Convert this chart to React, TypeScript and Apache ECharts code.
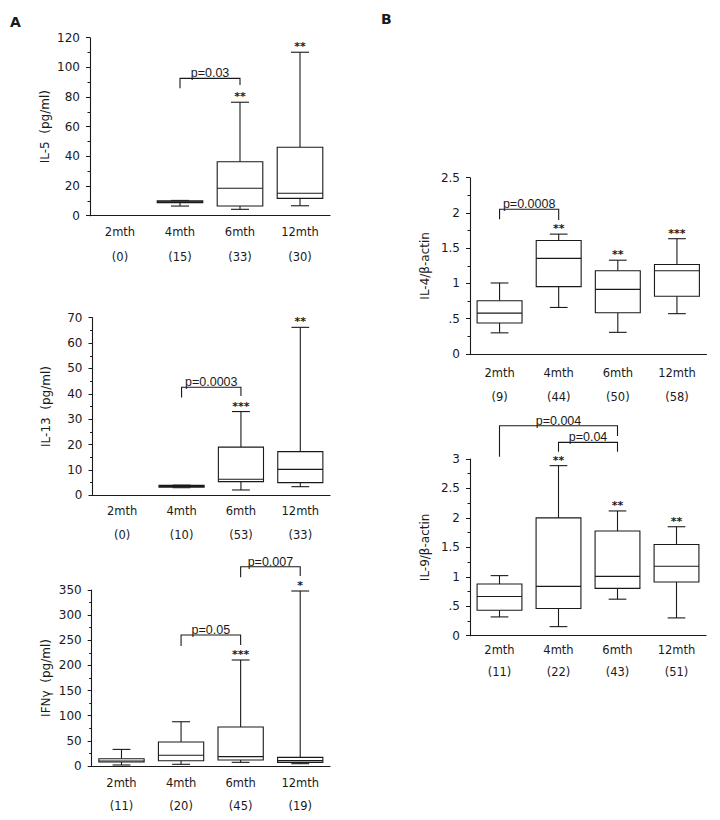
import React, { useEffect, useRef } from "react";
import * as echarts from "echarts";

// ---------- data ----------
const categories = ["2mth", "4mth", "6mth", "12mth"];

// box data: [categoryIndex, min, q1, median, q3, max]
const il5Boxes = [
  [1, 6.5, 8.8, 9.3, 10.0, 10.3],
  [2, 4.3, 6.5, 18.5, 36.4, 76.5],
  [3, 6.7, 11.7, 15.1, 46.1, 110.2],
];
const il5Stars = ["", "**", "**"];
const il5Counts = ["(0)", "(15)", "(33)", "(30)"];
const il5Brackets = [[1, 2, 92.6, 85.9, 88.1]];
const il5BracketLabels = ["p=0.03"];

const il13Boxes = [
  [1, 3.0, 3.2, 3.5, 3.9, 4.0],
  [2, 2.1, 5.4, 6.3, 19.0, 33.0],
  [3, 3.4, 5.0, 10.2, 17.2, 66.2],
];
const il13Stars = ["", "***", "**"];
const il13Counts = ["(0)", "(10)", "(53)", "(33)"];
const il13Brackets = [[1, 2, 42.6, 38.5, 39.1]];
const il13BracketLabels = ["p=0.0003"];

const ifnBoxes = [
  [0, 2, 8, 10, 14.5, 33],
  [1, 3.4, 10.5, 21.3, 47.7, 88],
  [2, 7.3, 11.9, 18.6, 77.6, 210.8],
  [3, 4.6, 7.3, 10.6, 17.2, 348],
];
const ifnStars = ["", "", "***", "*"];
const ifnCounts = ["(11)", "(20)", "(45)", "(19)"];
const ifnBrackets = [
  [1, 2, 260.5, 238.6, 240.6],
  [2, 3, 396.3, 375.2, 377.8],
];
const ifnBracketLabels = ["p=0.05", "p=0.007"];

const il4Boxes = [
  [0, 0.3, 0.44, 0.58, 0.756, 1.007],
  [1, 0.66, 0.955, 1.356, 1.61, 1.7],
  [2, 0.307, 0.586, 0.917, 1.18, 1.33],
  [3, 0.572, 0.818, 1.18, 1.27, 1.635],
];
const il4Stars = ["", "**", "**", "***"];
const il4Counts = ["(9)", "(44)", "(50)", "(58)"];
const il4Brackets = [[0, 1, 2.052, 1.91, 1.9]];
const il4BracketLabels = ["p=0.0008"];

const il9Boxes = [
  [0, 0.319, 0.433, 0.666, 0.877, 1.02],
  [1, 0.154, 0.461, 0.837, 2.0, 2.887],
  [2, 0.62, 0.803, 1.008, 1.777, 2.118],
  [3, 0.302, 0.911, 1.179, 1.549, 1.85],
];
const il9Stars = ["", "**", "**", "**"];
const il9Counts = ["(11)", "(22)", "(43)", "(51)"];
const il9Brackets = [
  [0, 2, 3.565, 3.04, 3.39],
  [1, 2, 3.283, 3.124, 3.124],
];
const il9BracketLabels = ["p=0.004", "p=0.04"];

// ---------- styling helpers ----------
const FONT = "DejaVu Sans";
const INK = "#1a1a1a";

function boxRenderer(stars: string[]) {
  return (params: any, api: any) => {
    const c = api.value(0);
    const pts = [1, 2, 3, 4, 5].map((i) => api.coord([c, api.value(i)]));
    const cx = pts[0][0];
    const band = api.size([1, 0])[0];
    const bw = band * 0.76;
    const cw = band * 0.3;
    const [yMin, yQ1, yMed, yQ3, yMax] = pts.map((p: number[]) => p[1]);
    const ls = { stroke: INK, lineWidth: 1.1 };
    const children: any[] = [
      { type: "line", shape: { x1: cx, y1: yQ3, x2: cx, y2: yMax }, style: ls },
      { type: "line", shape: { x1: cx, y1: yQ1, x2: cx, y2: yMin }, style: ls },
      { type: "line", shape: { x1: cx - cw / 2, y1: yMax, x2: cx + cw / 2, y2: yMax }, style: ls },
      { type: "line", shape: { x1: cx - cw / 2, y1: yMin, x2: cx + cw / 2, y2: yMin }, style: ls },
      {
        type: "rect",
        shape: { x: cx - bw / 2, y: yQ3, width: bw, height: Math.max(yQ1 - yQ3, 1.5) },
        style: { fill: "#fff", stroke: INK, lineWidth: 1.1 },
      },
      { type: "line", shape: { x1: cx - bw / 2, y1: yMed, x2: cx + bw / 2, y2: yMed }, style: ls },
    ];
    const s = stars[params.dataIndex];
    if (s) {
      children.push({
        type: "text",
        x: cx,
        y: yMax - 5.5,
        style: {
          text: s,
          fill: INK,
          font: `bold 11px ${FONT}`,
          align: "center",
          verticalAlign: "middle",
        },
      });
    }
    return { type: "group", children };
  };
}

function bracketRenderer(labels: string[]) {
  return (params: any, api: any) => {
    const a = api.value(0);
    const b = api.value(1);
    const top = api.value(2);
    const p1 = api.coord([a, api.value(3)]);
    const p2 = api.coord([a, top]);
    const p3 = api.coord([b, top]);
    const p4 = api.coord([b, api.value(4)]);
    return {
      type: "group",
      children: [
        {
          type: "polyline",
          shape: { points: [p1, p2, p3, p4] },
          style: { stroke: INK, lineWidth: 1.1, fill: "none" },
        },
        {
          type: "text",
          x: (p2[0] + p3[0]) / 2,
          y: p2[1] + 1.5,
          style: {
            text: labels[params.dataIndex],
            fill: INK,
            font: `12.5px Liberation Sans`,
            align: "center",
            verticalAlign: "bottom",
          },
        },
      ],
    };
  };
}

type Panel = {
  grid: { left: number; top: number; width: number; height: number };
  name: string;
  nameGap: number;
  max: number;
  interval: number;
  fmt?: (v: number) => string;
  counts: string[];
  labelMargin: number;
  labelLH: number;
  boxes: number[][];
  stars: string[];
  brackets: number[][];
  bracketLabels: string[];
};

const decimalFmt = (v: number) => {
  if (v === 0) return "0";
  if (v > 0 && v < 1) return String(v).replace(/^0/, "");
  return String(v);
};

const panels: Panel[] = [
  {
    grid: { left: 90, top: 37.7, width: 240, height: 178 },
    name: "IL-5  (pg/ml)", nameGap: 45, max: 120, interval: 20,
    counts: il5Counts, labelMargin: 4, labelLH: 25,
    boxes: il5Boxes, stars: il5Stars, brackets: il5Brackets, bracketLabels: il5BracketLabels,
  },
  {
    grid: { left: 92.5, top: 317.7, width: 237.5, height: 177.6 },
    name: "IL-13  (pg/ml)", nameGap: 47, max: 70, interval: 10,
    counts: il13Counts, labelMargin: 4, labelLH: 24,
    boxes: il13Boxes, stars: il13Stars, brackets: il13Brackets, bracketLabels: il13BracketLabels,
  },
  {
    grid: { left: 91.7, top: 590, width: 238.3, height: 176 },
    name: "IFNγ  (pg/ml)", nameGap: 46, max: 350, interval: 50,
    counts: ifnCounts, labelMargin: 5, labelLH: 23.3,
    boxes: ifnBoxes, stars: ifnStars, brackets: ifnBrackets, bracketLabels: ifnBracketLabels,
  },
  {
    grid: { left: 470, top: 177.7, width: 236.5, height: 176.3 },
    name: "IL-4/β-actin", nameGap: 45, max: 2.5, interval: 0.5, fmt: decimalFmt,
    counts: il4Counts, labelMargin: 6.5, labelLH: 24,
    boxes: il4Boxes, stars: il4Stars, brackets: il4Brackets, bracketLabels: il4BracketLabels,
  },
  {
    grid: { left: 470, top: 459, width: 236, height: 176.7 },
    name: "IL-9/β-actin", nameGap: 45.5, max: 3, interval: 0.5, fmt: decimalFmt,
    counts: il9Counts, labelMargin: 2.5, labelLH: 22.7,
    boxes: il9Boxes, stars: il9Stars, brackets: il9Brackets, bracketLabels: il9BracketLabels,
  },
];

function buildOption() {
  const grid: any[] = [];
  const xAxis: any[] = [];
  const yAxis: any[] = [];
  const series: any[] = [];
  panels.forEach((p, i) => {
    grid.push({ ...p.grid, containLabel: false });
    xAxis.push({
      type: "category",
      gridIndex: i,
      data: categories,
      boundaryGap: true,
      axisLine: { lineStyle: { color: INK, width: 1.1 } },
      axisTick: { alignWithLabel: true, length: 3, lineStyle: { color: INK } },
      axisLabel: {
        interval: 0,
        margin: p.labelMargin,
        lineHeight: p.labelLH,
        fontFamily: FONT,
        fontSize: 11.5,
        color: INK,
        formatter: (v: string, idx: number) => `${v}\n${p.counts[idx]}`,
      },
      splitLine: { show: false },
    });
    yAxis.push({
      type: "value",
      gridIndex: i,
      min: 0,
      max: p.max,
      interval: p.interval,
      name: p.name,
      nameLocation: "middle",
      nameRotate: 90,
      nameGap: p.nameGap,
      nameTextStyle: { fontFamily: FONT, fontSize: 12, color: INK, verticalAlign: "middle" },
      axisLine: { show: true, lineStyle: { color: INK, width: 1.1 } },
      axisTick: { show: true, length: 4, lineStyle: { color: INK } },
      minorTick: { show: true, splitNumber: 2, length: 2.5, lineStyle: { color: INK } },
      axisLabel: {
        margin: 10,
        fontFamily: FONT,
        fontSize: 12,
        color: INK,
        formatter: p.fmt ? p.fmt : (v: number) => String(v),
      },
      splitLine: { show: false },
    });
    series.push({
      type: "custom",
      xAxisIndex: i,
      yAxisIndex: i,
      clip: false,
      renderItem: boxRenderer(p.stars),
      encode: { x: 0, y: [1, 2, 3, 4, 5] },
      data: p.boxes,
    });
    series.push({
      type: "custom",
      xAxisIndex: i,
      yAxisIndex: i,
      clip: false,
      renderItem: bracketRenderer(p.bracketLabels),
      encode: { x: [0, 1], y: [2, 3, 4] },
      data: p.brackets,
    });
  });
  return {
    animation: false,
    backgroundColor: "#ffffff",
    grid,
    xAxis,
    yAxis,
    series,
    graphic: [
      {
        type: "text",
        left: 10,
        top: 15,
        style: { text: "A", font: `bold 14px ${FONT}`, fill: INK },
      },
      {
        type: "text",
        left: 381,
        top: 12,
        style: { text: "B", font: `bold 14px ${FONT}`, fill: INK },
      },
    ],
  };
}

export default function App() {
  const ref = useRef<HTMLDivElement>(null);
  useEffect(() => {
    if (!ref.current) return;
    const chart = echarts.init(ref.current, undefined, { renderer: "svg" });
    chart.setOption(buildOption() as any);
    return () => chart.dispose();
  }, []);
  return (
    <div
      ref={ref}
      style={{ position: "absolute", left: 0, top: 0, width: 720, height: 820, background: "#fff" }}
    />
  );
}
